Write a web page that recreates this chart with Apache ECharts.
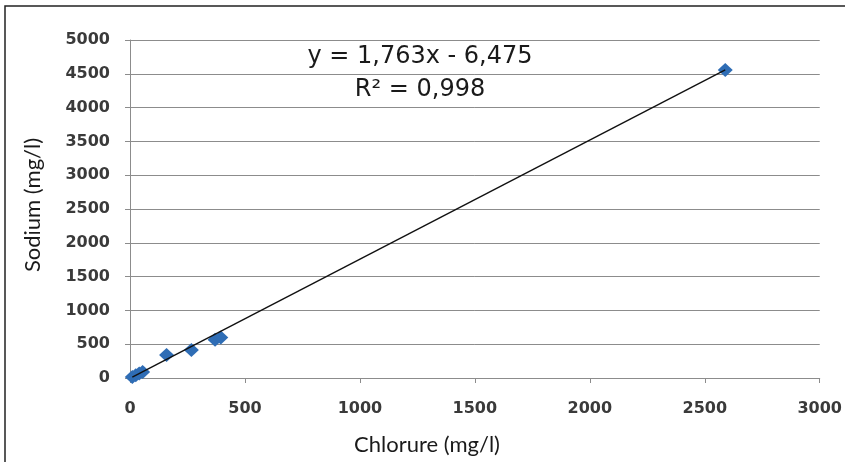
<!DOCTYPE html>
<html>
<head>
<meta charset="utf-8">
<script src="https://cdn.jsdelivr.net/npm/echarts@6/dist/echarts.min.js"></script>
<style>html,body{margin:0;padding:0;background:#fff;}#c{width:845px;height:462px;}</style>
</head>
<body>
<div id="c"></div>
<script>
const chlorure = [10, 25, 40, 55, 159, 267, 370, 395, 2589];
const sodium   = [15, 40, 65, 90, 340, 414, 565, 600, 4556];
const slope = 1.763, intercept = -6.475;
const eqText = 'y = 1,763x - 6,475';
const r2Text = 'R² = 0,998';
const xTitle = 'Chlorure (mg/l)';
const yTitle = 'Sodium (mg/l)';
const xTicks = [0, 500, 1000, 1500, 2000, 2500, 3000];
const yTicks = [0, 500, 1000, 1500, 2000, 2500, 3000, 3500, 4000, 4500, 5000];

const pts = chlorure.map((x, i) => [x, sodium[i]]);
const xmin = Math.min(...chlorure), xmax = Math.max(...chlorure);
const trend = [[xmin, slope * xmin + intercept], [xmax, slope * xmax + intercept]];
const FONT = 'Lato';
const TICKFONT = 'DejaVu Sans';
const chart = echarts.init(document.getElementById('c'));
chart.setOption({
  animation: false,
  textStyle: { fontFamily: FONT },
  grid: { left: 130, right: 19, top: 40, bottom: 84 },
  graphic: [
    { type: 'rect', shape: { x: 5, y: 6, width: 850, height: 470 }, style: { fill: 'none', stroke: '#222', lineWidth: 1.5 }, z: -1 },
    { type: 'text', style: { text: eqText, x: 420, y: 57, textAlign: 'center', textVerticalAlign: 'middle', font: '24px "DejaVu Sans"', fill: '#1a1a1a' } },
    { type: 'text', style: { text: r2Text, x: 420, y: 90, textAlign: 'center', textVerticalAlign: 'middle', font: '24px "DejaVu Sans"', fill: '#1a1a1a' } },
    { type: 'text', style: { text: xTitle, x: 427, y: 445, textAlign: 'center', textVerticalAlign: 'middle', font: '22px ' + FONT, fill: '#1a1a1a' } },
    { type: 'text', x: 33, y: 205, rotation: Math.PI / 2, style: { text: yTitle, x: 0, y: 0, textAlign: 'center', textVerticalAlign: 'middle', font: '22px ' + FONT, fill: '#1a1a1a' } }
  ],
  xAxis: {
    type: 'value', min: xTicks[0], max: xTicks[xTicks.length - 1], interval: 500,
    axisLine: { show: true, lineStyle: { color: '#8c8c8c', width: 1 } },
    axisTick: { show: true, length: 5, lineStyle: { color: '#8c8c8c' } },
    axisLabel: { fontSize: 16, fontWeight: 'bold', color: '#3a3a3a', margin: 23, fontFamily: TICKFONT, formatter: v => String(v) },
    splitLine: { show: false }
  },
  yAxis: {
    type: 'value', min: yTicks[0], max: yTicks[yTicks.length - 1], interval: 500,
    axisLine: { show: true, lineStyle: { color: '#8c8c8c', width: 1 } },
    axisTick: { show: true, length: 5, lineStyle: { color: '#8c8c8c' } },
    axisLabel: { fontSize: 16, fontWeight: 'bold', color: '#3a3a3a', margin: 20, fontFamily: TICKFONT, formatter: v => String(v) },
    splitLine: { show: true, lineStyle: { color: '#8c8c8c', width: 1 } }
  },
  series: [
    { type: 'line', data: trend, symbol: 'none', lineStyle: { color: '#111', width: 1.4 }, z: 3, silent: true },
    { type: 'scatter', data: pts, symbol: 'diamond', symbolSize: [15, 14], itemStyle: { color: '#2f6db5', opacity: 1 }, z: 2 }
  ]
});
</script>
</body>
</html>
